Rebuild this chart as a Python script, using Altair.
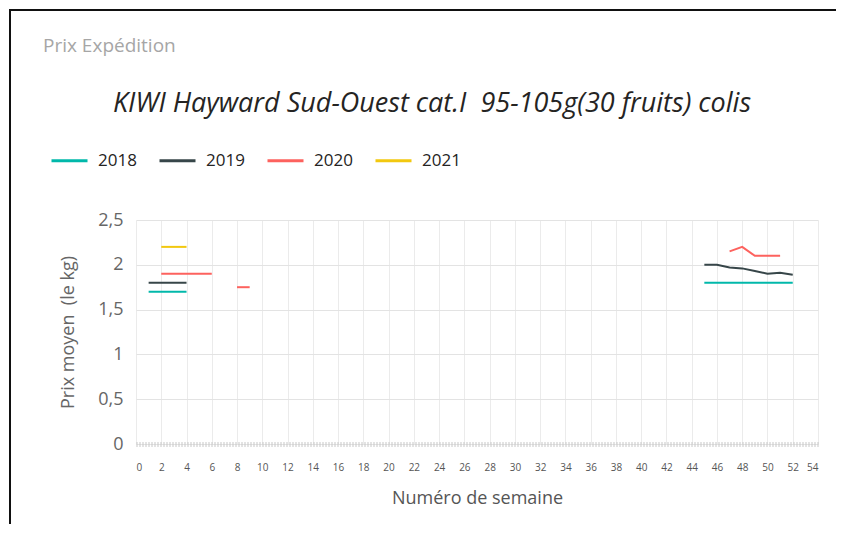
import altair as alt
import pandas as pd

# ---- data ----
years = ["2018", "2019", "2020", "2021"]
colors = ["#01B8AA", "#374649", "#FD625E", "#F2C80F"]

w18_a = [1, 2, 3, 4]
p18_a = [1.7, 1.7, 1.7, 1.7]
w18_b = [45, 46, 47, 48, 49, 50, 51, 52]
p18_b = [1.8, 1.8, 1.8, 1.8, 1.8, 1.8, 1.8, 1.8]

w19_a = [1, 2, 3, 4]
p19_a = [1.8, 1.8, 1.8, 1.8]
w19_b = [45, 46, 47, 48, 49, 50, 51, 52]
p19_b = [2.0, 2.0, 1.97, 1.96, 1.93, 1.90, 1.91, 1.89]

w20_a = [2, 3, 4, 5, 6]
p20_a = [1.9, 1.9, 1.9, 1.9, 1.9]
w20_b = [8, 9]
p20_b = [1.75, 1.75]
w20_c = [47, 48, 49, 50, 51]
p20_c = [2.15, 2.2, 2.1, 2.1, 2.1]

w21_a = [2, 3, 4]
p21_a = [2.2, 2.2, 2.2]

x_ticks = list(range(0, 56, 2))
y_ticks = [0, 0.5, 1, 1.5, 2, 2.5]

card_title = "Prix Expédition"
chart_title = "KIWI Hayward Sud-Ouest cat.I \u00a095-105g(30 fruits) colis"
x_title = "Numéro de semaine"
y_title = "Prix moyen \u00a0(le kg)"

segments = [
    ("2018", "a", w18_a, p18_a), ("2018", "b", w18_b, p18_b),
    ("2019", "a", w19_a, p19_a), ("2019", "b", w19_b, p19_b),
    ("2020", "a", w20_a, p20_a), ("2020", "b", w20_b, p20_b),
    ("2020", "c", w20_c, p20_c),
    ("2021", "a", w21_a, p21_a),
]
rows = []
for yr, seg, ws, ps in segments:
    for w, p in zip(ws, ps):
        rows.append({"Année": yr, "seg": yr + seg, "semaine": w, "prix": p})
df = pd.DataFrame(rows)

FONT = "Open Sans"
W, H = 682, 224
LEFT, TOP = 127, 211  # plot origin offset from the svg origin

lines = alt.Chart(df).mark_line(strokeWidth=2).encode(
    x=alt.X("semaine:Q",
            scale=alt.Scale(domain=[0, 54], nice=False, zero=False),
            axis=alt.Axis(values=x_ticks, title=x_title, grid=True,
                          gridColor="#ebebeb", ticks=False,
                          domain=True, domainColor="#c8c8c8", domainWidth=5,
                          domainDash=[1, 2],
                          labelFontSize=10, labelColor="#555555", labelPadding=18,
                          labelFont=FONT, titleFont=FONT, titleFontSize=18,
                          titleFontWeight="normal", titleColor="#555555",
                          titlePadding=17)),
    y=alt.Y("prix:Q",
            scale=alt.Scale(domain=[0, 2.5], nice=False),
            axis=alt.Axis(values=y_ticks, title=y_title, grid=True,
                          gridColor="#e3e3e3", ticks=False, domain=False,
                          labelExpr="replace(format(datum.value, ''), '.', ',')",
                          labelFontSize=18, labelColor="#666666", labelPadding=13,
                          labelFont=FONT, titleFont=FONT, titleFontSize=18,
                          titleFontWeight="normal", titleColor="#666666",
                          titlePadding=20)),
    color=alt.Color("Année:N",
                    scale=alt.Scale(domain=years, range=colors),
                    legend=alt.Legend(orient="none", legendX=-86, legendY=-79,
                                      direction="horizontal", title=None,
                                      symbolType="stroke", symbolSize=1296,
                                      symbolStrokeWidth=3, labelFontSize=17,
                                      labelFont=FONT, labelColor="#252423",
                                      labelOffset=9, columnPadding=16)),
    detail="seg:N",
)

card = alt.Chart(pd.DataFrame({"t": [card_title]})).mark_text(
    align="left", baseline="middle", fontSize=19, font=FONT, color="#a6a6a6"
).encode(text="t:N", x=alt.value(42 - 8 - LEFT), y=alt.value(45 - 8 - TOP))

title = alt.Chart(pd.DataFrame({"t": [chart_title]})).mark_text(
    align="center", baseline="middle", fontSize=27, font=FONT, fontStyle="italic",
    color="#252423"
).encode(text="t:N", x=alt.value(431 - 8 - LEFT), y=alt.value(103 - 8 - TOP))

border_top = alt.Chart(pd.DataFrame({"k": [0]})).mark_rule(
    color="#111111", strokeWidth=2
).encode(x=alt.value(-LEFT), x2=alt.value(700), y=alt.value(-TOP + 1))

border_left = alt.Chart(pd.DataFrame({"k": [0]})).mark_rule(
    color="#111111", strokeWidth=2
).encode(x=alt.value(-LEFT + 1), y=alt.value(-TOP), y2=alt.value(304))

chart = alt.layer(border_top, border_left, card, title, lines).properties(
    width=W, height=H, padding=0, background="white"
).configure_view(stroke=None)

chart.save("out.html", embed_options={"renderer": "svg", "actions": False})
